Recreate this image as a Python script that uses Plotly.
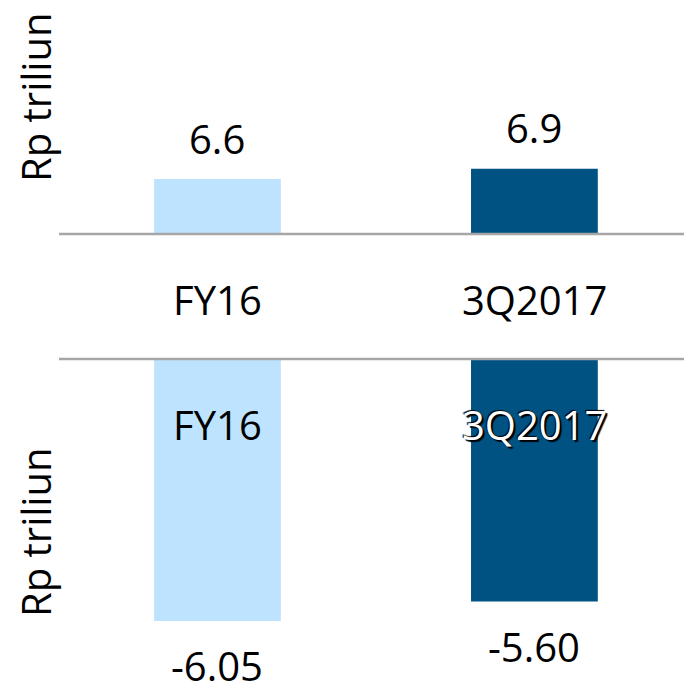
import plotly.graph_objects as go
from plotly.subplots import make_subplots

categories = ["FY16", "3Q2017"]
top_values = [6.6, 6.9]
bottom_values = [-6.05, -5.60]
top_labels = ["6.6", "6.9"]
bottom_labels = ["-6.05", "-5.60"]
y_title = "Rp triliun"

colors = ["#BEE3FE", "#005283"]
FONT = "Open Sans"
FS = 40

fig = make_subplots(rows=2, cols=1, shared_xaxes=False, vertical_spacing=0)

fig.add_trace(go.Bar(x=categories, y=[v - 5 for v in top_values], base=5,
                     marker=dict(color=colors, line=dict(width=0)),
                     width=0.4, hoverinfo="skip"), row=1, col=1)
fig.add_trace(go.Bar(x=categories, y=bottom_values,
                     marker=dict(color=colors, line=dict(width=0)),
                     width=0.4, hoverinfo="skip"), row=2, col=1)

fig.update_layout(
    width=684, height=688,
    margin=dict(l=59, r=0, t=0, b=0),
    paper_bgcolor="white", plot_bgcolor="white",
    showlegend=False,
    font=dict(family=FONT, size=FS, color="black"),
    xaxis=dict(domain=[0, 1], range=[-0.5, 1.472], showticklabels=False,
               showgrid=False, zeroline=False, showline=False, fixedrange=True),
    xaxis2=dict(domain=[0, 1], range=[-0.5, 1.472], showticklabels=False,
                showgrid=False, zeroline=False, showline=False, fixedrange=True),
    yaxis=dict(domain=[1 - 234 / 688, 1], range=[5, 5 + 234 / 34.3],
               showticklabels=False, showgrid=False, zeroline=False,
               showline=False),
    yaxis2=dict(domain=[0, 1 - 359 / 688], range=[-329 / 43.3, 0],
                showticklabels=False, showgrid=False, zeroline=False,
                showline=False),
)

# axis lines
for yv in [1 - 234 / 688, 1 - 359 / 688]:
    fig.add_shape(type="line", xref="paper", yref="paper", x0=0, x1=1,
                  y0=yv, y1=yv, line=dict(color="#A6A6A6", width=2.5))

# value labels
for c, v, t in zip(categories, top_values, top_labels):
    fig.add_annotation(x=c, y=v, xref="x", yref="y", text=t, showarrow=False,
                       yanchor="middle", yshift=41, font=dict(size=FS))
for c, v, t in zip(categories, bottom_values, bottom_labels):
    fig.add_annotation(x=c, y=v, xref="x2", yref="y2", text=t, showarrow=False,
                       yanchor="middle", yshift=-45, font=dict(size=FS))

# category labels
for c in categories:
    fig.add_annotation(x=c, y=1 - 299 / 688, xref="x", yref="paper", text=c,
                       showarrow=False, yanchor="middle", font=dict(size=FS))
fig.add_annotation(x=categories[0], y=1 - 424 / 688, xref="x2", yref="paper",
                   text=categories[0], showarrow=False, yanchor="middle",
                   font=dict(size=FS, color="black"))
fig.add_annotation(x=categories[1], y=1 - 424 / 688, xref="x2", yref="paper",
                   text=categories[1], showarrow=False, yanchor="middle",
                   font=dict(size=FS, color="white",
                             shadow="2px 2px 1px black, -1px -1px 1px black"))

# y titles
for yc in [1 - 97 / 688, 1 - 532 / 688]:
    fig.add_annotation(x=(35 - 59) / 625, y=yc, xref="paper", yref="paper",
                       text=y_title, textangle=-90, showarrow=False,
                       xanchor="center", yanchor="middle", font=dict(size=FS))

fig.write_html("out.html", config={"displayModeBar": False},
               post_script="document.body.style.margin='0';document.body.style.overflow='hidden';")
